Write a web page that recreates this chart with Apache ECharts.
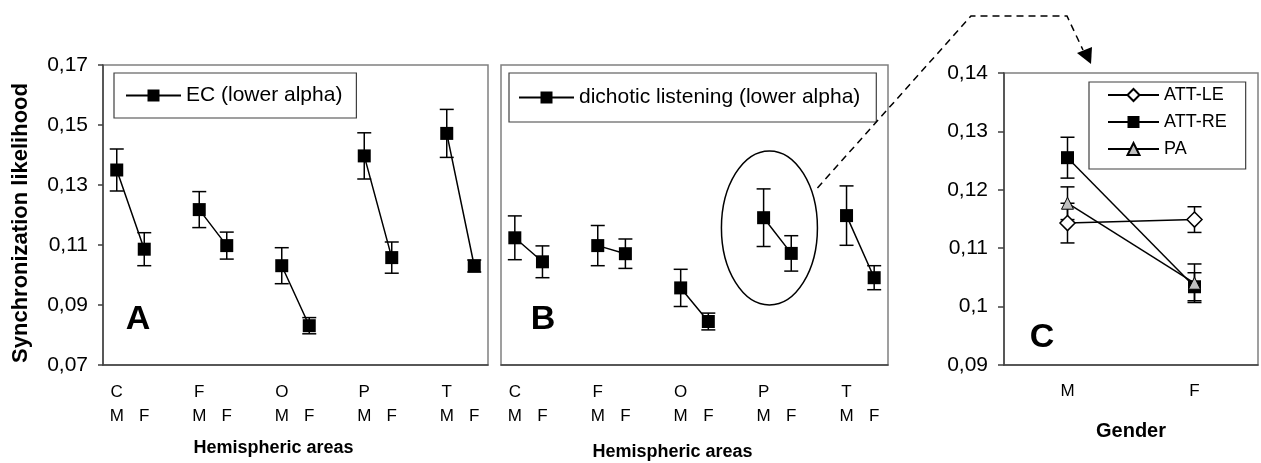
<!DOCTYPE html>
<html>
<head>
<meta charset="utf-8">
<script src="https://cdn.jsdelivr.net/npm/echarts@6/dist/echarts.min.js"></script>
<style>
html,body{margin:0;padding:0;background:#fff;}
#chart{width:1261px;height:463px;}
</style>
</head>
<body>
<div id="chart"></div>
<script>
// ---------- data ----------
const regions = ['C', 'F', 'O', 'P', 'T'];
const genders = ['M', 'F'];
// values per region, order: M, F
const ecMean = [0.1350, 0.1086, 0.1218, 0.1098, 0.1031, 0.0831, 0.1397, 0.1058, 0.1472, 0.1030];
const ecErr  = [0.0070, 0.0055, 0.0060, 0.0045, 0.0060, 0.0027, 0.0077, 0.0052, 0.0080, 0.0020];
const dlMean = [0.1124, 0.1044, 0.1098, 0.1071, 0.0957, 0.0845, 0.1191, 0.1072, 0.1198, 0.0991];
const dlErr  = [0.0073, 0.0053, 0.0067, 0.0049, 0.0062, 0.0028, 0.0096, 0.0059, 0.0099, 0.0040];
// panel C (M, F)
const attLeMean = [0.1143, 0.1149];
const attLeErr  = [0.0034, 0.0022];
const attReMean = [0.1255, 0.1034];
const attReErr  = [0.0035, 0.0024];
const paMean    = [0.1177, 0.1040];
const paErr     = [0.0028, 0.0033];
// tick labels
const yTicksAB = ['0,07', '0,09', '0,11', '0,13', '0,15', '0,17'];
const yTicksC  = ['0,09', '0,1', '0,11', '0,12', '0,13', '0,14'];
const seriesNames = ['EC (lower alpha)', 'dichotic listening (lower alpha)', 'ATT-LE', 'ATT-RE', 'PA'];

// ---------- helpers ----------
const FONT = "'Liberation Sans', Arial, Helvetica, sans-serif";
const slots = [];      // category keys
const slotLabels = []; // displayed labels
regions.forEach((r, i) => {
  genders.forEach((g, j) => {
    slots.push(r + '-' + g);
    slotLabels.push(j === 0 ? r + '\n' + g : ' \n' + g);
  });
  if (i < regions.length - 1) { slots.push('gap' + i); slotLabels.push(''); }
});
const slotOf = (i, j) => i * 3 + j;

function lineData(mean) {
  const arr = slots.map(() => null);
  regions.forEach((r, i) => genders.forEach((g, j) => { arr[slotOf(i, j)] = mean[i * 2 + j]; }));
  return arr;
}
function errData(mean, err) {
  const arr = [];
  regions.forEach((r, i) => genders.forEach((g, j) => {
    arr.push([slotOf(i, j), mean[i * 2 + j], err[i * 2 + j]]);
  }));
  return arr;
}
function errDataC(mean, err) {
  return genders.map((g, j) => [j, mean[j], err[j]]);
}
function renderErr(params, api) {
  const x = api.value(0), v = api.value(1), e = api.value(2);
  const t = api.coord([x, v + e]);
  const b = api.coord([x, v - e]);
  const w = 7;
  const st = { stroke: '#000', lineWidth: 1.5 };
  return {
    type: 'group',
    children: [
      { type: 'line', shape: { x1: t[0], y1: t[1], x2: b[0], y2: b[1] }, style: st },
      { type: 'line', shape: { x1: t[0] - w, y1: t[1], x2: t[0] + w, y2: t[1] }, style: st },
      { type: 'line', shape: { x1: b[0] - w, y1: b[1], x2: b[0] + w, y2: b[1] }, style: st }
    ]
  };
}
function errSeries(data, xi, yi) {
  return {
    type: 'custom', xAxisIndex: xi, yAxisIndex: yi, data: data,
    renderItem: renderErr, encode: { x: 0, y: 1 }, z: 1, silent: true
  };
}
function tickFmt(labels, min, step) {
  return v => labels[Math.round((v - min) / step)] || '';
}

const axisLineDark = { show: true, lineStyle: { color: '#404040', width: 1.5 } };
const xLabelAB = {
  interval: 0, margin: 15, fontSize: 17, lineHeight: 24, color: '#000', fontFamily: FONT,
  formatter: (v, idx) => slotLabels[idx]
};
const legendCommon = {
  borderColor: '#404040', borderWidth: 1.2, backgroundColor: '#fff',
  itemHeight: 15, selectedMode: false,
  textStyle: { fontSize: 21, color: '#000', fontFamily: FONT }
};
const gridCommon = { show: true, borderColor: '#808080', borderWidth: 1.5, backgroundColor: 'transparent',
  containLabel: false, outerBoundsMode: 'none' };

const option = {
  animation: false,
  backgroundColor: '#fff',
  grid: [
    Object.assign({ left: 103, top: 65, width: 385, height: 300 }, gridCommon),
    Object.assign({ left: 501, top: 65, width: 387, height: 300 }, gridCommon),
    Object.assign({ left: 1004, top: 73, width: 254, height: 292 }, gridCommon)
  ],
  xAxis: [
    { type: 'category', gridIndex: 0, data: slots, boundaryGap: true, axisLine: axisLineDark, axisTick: { show: false },
      axisLabel: xLabelAB, name: 'Hemispheric areas', nameLocation: 'middle', nameGap: 74,
      nameTextStyle: { fontSize: 18, fontWeight: 'bold', color: '#000', fontFamily: FONT, padding: [0, 44, 0, 0] } },
    { type: 'category', gridIndex: 1, data: slots, boundaryGap: true, axisLine: axisLineDark, axisTick: { show: false },
      axisLabel: xLabelAB, name: 'Hemispheric areas', nameLocation: 'middle', nameGap: 78,
      nameTextStyle: { fontSize: 18, fontWeight: 'bold', color: '#000', fontFamily: FONT, padding: [0, 44, 0, 0] } },
    { type: 'category', gridIndex: 2, data: genders, boundaryGap: true, axisLine: axisLineDark, axisTick: { show: false },
      axisLabel: { interval: 0, margin: 18, fontSize: 17, color: '#000', fontFamily: FONT },
      name: 'Gender', nameLocation: 'middle', nameGap: 56,
      nameTextStyle: { fontSize: 20, fontWeight: 'bold', color: '#000', fontFamily: FONT } }
  ],
  yAxis: [
    { type: 'value', gridIndex: 0, min: 0.07, max: 0.17, interval: 0.02, splitLine: { show: false },
      axisLine: axisLineDark, axisTick: { show: true, length: 5, lineStyle: { color: '#404040', width: 1.5 } },
      axisLabel: { margin: 15, fontSize: 21, color: '#000', fontFamily: FONT, formatter: tickFmt(yTicksAB, 0.07, 0.02) },
      name: 'Synchronization likelihood', nameLocation: 'middle', nameGap: 71,
      nameTextStyle: { fontSize: 22, fontWeight: 'bold', color: '#000', fontFamily: FONT, padding: [0, 16, 0, 0] } },
    { type: 'value', gridIndex: 1, min: 0.07, max: 0.17, interval: 0.02, splitLine: { show: false },
      axisLine: { show: false }, axisTick: { show: false }, axisLabel: { show: false } },
    { type: 'value', gridIndex: 2, min: 0.09, max: 0.14, interval: 0.01, splitLine: { show: false },
      axisLine: axisLineDark, axisTick: { show: true, length: 6, lineStyle: { color: '#404040', width: 1.5 } },
      axisLabel: { margin: 16, fontSize: 21, color: '#000', fontFamily: FONT, formatter: tickFmt(yTicksC, 0.09, 0.01) } }
  ],
  legend: [
    Object.assign({}, legendCommon, { data: [seriesNames[0]], left: 114, top: 73, itemWidth: 55, padding: [12, 14, 12, 11] }),
    Object.assign({}, legendCommon, { data: [seriesNames[1]], left: 509, top: 73, itemWidth: 55, padding: [14, 16, 14, 9] }),
    Object.assign({}, legendCommon, { data: seriesNames.slice(2), left: 1089, top: 82, orient: 'vertical',
      itemWidth: 51, itemGap: 9, padding: [4, 19, 11, 18], textStyle: { fontSize: 18, color: '#000', fontFamily: FONT } })
  ],
  series: [
    errSeries(errData(ecMean, ecErr), 0, 0),
    { name: seriesNames[0], type: 'line', xAxisIndex: 0, yAxisIndex: 0, data: lineData(ecMean), connectNulls: false,
      symbol: 'rect', symbolSize: 13, itemStyle: { color: '#000' }, lineStyle: { color: '#000', width: 1.5 }, z: 3 },
    errSeries(errData(dlMean, dlErr), 1, 1),
    { name: seriesNames[1], type: 'line', xAxisIndex: 1, yAxisIndex: 1, data: lineData(dlMean), connectNulls: false,
      symbol: 'rect', symbolSize: 13, itemStyle: { color: '#000' }, lineStyle: { color: '#000', width: 1.5 }, z: 3 },
    errSeries(errDataC(attLeMean, attLeErr), 2, 2),
    errSeries(errDataC(attReMean, attReErr), 2, 2),
    errSeries(errDataC(paMean, paErr), 2, 2),
    { name: seriesNames[2], type: 'line', xAxisIndex: 2, yAxisIndex: 2, data: attLeMean,
      symbol: 'diamond', symbolSize: 15, itemStyle: { color: '#fff', borderColor: '#000', borderWidth: 1.5 },
      lineStyle: { color: '#000', width: 1.5 }, z: 3 },
    { name: seriesNames[3], type: 'line', xAxisIndex: 2, yAxisIndex: 2, data: attReMean,
      symbol: 'rect', symbolSize: 13, itemStyle: { color: '#000' },
      lineStyle: { color: '#000', width: 1.5 }, z: 4 },
    { name: seriesNames[4], type: 'line', xAxisIndex: 2, yAxisIndex: 2, data: paMean,
      symbol: 'triangle', symbolSize: 12, itemStyle: { color: '#c0c0c0', borderColor: '#000', borderWidth: 1 },
      lineStyle: { color: '#000', width: 1.5 }, z: 5 }
  ]
};

const chart = echarts.init(document.getElementById('chart'), null, { renderer: 'canvas' });
chart.setOption(option);

// ---------- annotations ----------
const pM = chart.convertToPixel({ xAxisIndex: 1, yAxisIndex: 1 }, [slotOf(3, 0), 0.1157]);
const pF = chart.convertToPixel({ xAxisIndex: 1, yAxisIndex: 1 }, [slotOf(3, 1), 0.1157]);
const ecx = (pM[0] + pF[0]) / 2 - 8, ecy = pM[1];
const rx = 48, ry = 77;
const ang = -0.546;
const sx = ecx + rx * Math.cos(ang) + 7, sy = ecy + ry * Math.sin(ang);
const letterStyle = { font: 'bold 34px ' + FONT, fill: '#000', textAlign: 'center', textVerticalAlign: 'middle' };
chart.setOption({
  graphic: [
    { type: 'ellipse', shape: { cx: ecx, cy: ecy, rx: rx, ry: ry }, style: { fill: 'none', stroke: '#000', lineWidth: 1.5 }, z: 10 },
    { type: 'polyline', shape: { points: [[sx, sy], [971, 16], [1067, 16], [1083, 50]] },
      style: { fill: 'none', stroke: '#000', lineWidth: 1.5, lineDash: [7, 5] }, z: 10 },
    { type: 'polygon', shape: { points: [[1077, 53], [1092, 47], [1091, 64]] }, style: { fill: '#000' }, z: 10 },
    { type: 'text', x: 138, y: 320, style: Object.assign({ text: 'A' }, letterStyle), z: 10 },
    { type: 'text', x: 543, y: 320, style: Object.assign({ text: 'B' }, letterStyle), z: 10 },
    { type: 'text', x: 1042, y: 338, style: Object.assign({ text: 'C' }, letterStyle), z: 10 }
  ]
});
</script>
</body>
</html>
